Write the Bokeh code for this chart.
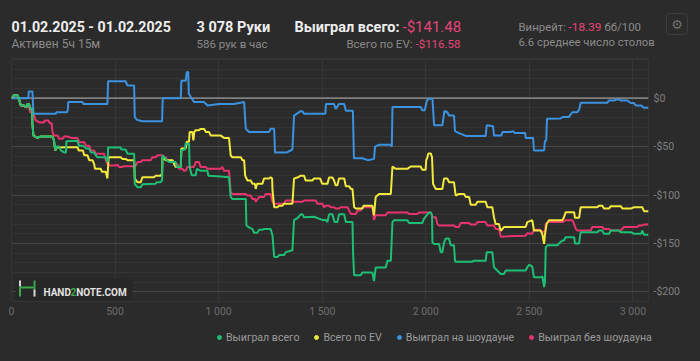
import numpy as np
from bokeh.plotting import figure
from bokeh.layouts import column
from bokeh.models import (Range1d, FixedTicker, Grid, Span, Label, BoxAnnotation,
                          Legend, LegendItem)
from bokeh.embed import file_html
from bokeh.resources import INLINE

# ---------------- data (hands played -> cumulative $) ----------------
series_names = ["Выиграл всего", "Всего по EV", "Выиграл на шоудауне", "Выиграл без шоудауна"]
series_colors = ["#1dbf75", "#f2e93c", "#3a92e0", "#e8336d"]

green_h = [0, 13, 29, 35, 45, 60, 69, 77, 85, 90,
           99, 101, 106, 125, 141, 198, 205, 211, 218, 230,
           238, 254, 263, 265, 318, 325, 345, 360, 375, 383,
           399, 407, 415, 455, 460, 465, 466, 527, 530, 551,
           560, 592, 595, 608, 624, 632, 696, 700, 720, 727,
           729, 737, 745, 761, 793, 797, 817, 820, 836, 841,
           857, 860, 870, 889, 895, 913, 946, 950, 1010, 1050,
           1058, 1066, 1131, 1134, 1150, 1163, 1171, 1187, 1195, 1211,
           1219, 1251, 1260, 1268, 1284, 1292, 1316, 1324, 1356, 1364,
           1380, 1396, 1404, 1412, 1460, 1500, 1517, 1525, 1533, 1549,
           1560, 1573, 1581, 1606, 1614, 1646, 1649, 1654, 1686, 1694,
           1742, 1750, 1758, 1806, 1815, 1831, 1839, 1847, 1911, 1919,
           1983, 1990, 2008, 2016, 2024, 2030, 2032, 2040, 2064, 2072,
           2080, 2088, 2096, 2112, 2120, 2136, 2141, 2144, 2225, 2230,
           2289, 2294, 2321, 2329, 2345, 2362, 2378, 2386, 2482, 2490,
           2500, 2514, 2522, 2555, 2563, 2571, 2575, 2579, 2587, 2635,
           2643, 2659, 2667, 2675, 2716, 2720, 2740, 2745, 2748, 2828,
           2836, 2852, 2860, 2885, 2893, 2932, 2941, 2989, 3005, 3040,
           3045, 3053, 3075]
green_v = [0, 3, 3, 0, -7.6, -7.6, -9.3, -6, -6, -11,
           -11, -26.5, -38.6, -41, -39.6, -39.6, -43.7, -54, -50, -50,
           -54, -56, -56, -44.4, -44, -49, -49, -52, -52, -56,
           -56, -59, -61, -61, -64, -66, -51, -51, -53, -53,
           -57.5, -57.5, -88.5, -92, -92, -89, -88.5, -86.8, -86.8, -85,
           -59, -61, -63, -66, -66, -71, -71, -54, -53, -47,
           -47, -71, -79.5, -79.5, -73, -75, -75, -80, -81, -81.6,
           -102, -104, -104, -131.5, -134, -135, -139, -139, -136, -136,
           -135, -135, -142, -164, -164, -162, -162, -159, -157, -125.7,
           -124, -120, -120, -123, -122.5, -125.7, -125.7, -128, -120, -120,
           -128, -128, -120, -120, -128, -128, -161, -183, -183, -180,
           -180, -189, -175, -175, -168, -168, -128, -126, -126, -129,
           -129, -125, -120, -118, -118, -121, -149, -150.5, -150.5, -159,
           -159, -149, -145, -145, -152, -152, -168, -169, -169, -168,
           -168, -159, -159, -174.6, -178, -181.5, -181.5, -178, -178, -174.6,
           -172, -174, -185, -185, -184, -195, -190, -154, -152, -152,
           -150, -147, -147, -143.6, -143.6, -150, -150, -142, -138.4, -138.4,
           -136.7, -136.7, -140, -140, -136.7, -136.7, -138.4, -138.4, -140, -140,
           -136.7, -141, -141]

yellow_h = [0, 13, 29, 35, 45, 60, 69, 77, 85, 90,
            99, 101, 106, 125, 141, 198, 205, 211, 218, 262,
            318, 325, 345, 351, 367, 375, 391, 399, 403, 431,
            437, 455, 463, 469, 527, 535, 551, 560, 592, 595,
            608, 624, 632, 688, 696, 720, 727, 729, 745, 777,
            785, 793, 817, 820, 841, 846, 857, 860, 873, 878,
            882, 889, 905, 913, 930, 938, 954, 962, 1010, 1026,
            1050, 1058, 1066, 1107, 1115, 1123, 1128, 1139, 1155, 1163,
            1175, 1179, 1185, 1211, 1219, 1243, 1251, 1258, 1260, 1268,
            1284, 1292, 1308, 1316, 1356, 1364, 1380, 1396, 1412, 1420,
            1452, 1460, 1490, 1500, 1525, 1533, 1549, 1557, 1565, 1573,
            1581, 1606, 1614, 1630, 1638, 1646, 1654, 1662, 1694, 1700,
            1742, 1750, 1758, 1774, 1831, 1839, 1855, 1911, 1927, 1975,
            1983, 1999, 2002, 2008, 2012, 2024, 2030, 2035, 2048, 2080,
            2088, 2104, 2112, 2136, 2144, 2160, 2185, 2193, 2209, 2217,
            2241, 2249, 2289, 2297, 2321, 2329, 2337, 2353, 2362, 2378,
            2482, 2490, 2514, 2522, 2555, 2563, 2571, 2575, 2583, 2595,
            2659, 2667, 2675, 2716, 2720, 2740, 2745, 2748, 2828, 2836,
            2852, 2860, 2885, 2893, 2941, 2949, 2989, 3005, 3045, 3053,
            3075]
yellow_v = [0, 3, 3, 0, -7.6, -7.6, -9.3, -6, -6, -11,
            -11, -26.5, -38.6, -41, -39.6, -39.6, -43.7, -54, -51, -50.6,
            -50.6, -54, -54, -59, -59, -64, -64, -68, -73, -73,
            -76, -76, -83, -61, -61, -62.7, -62.7, -64, -64, -83,
            -86.8, -86.8, -81.6, -81.6, -80, -80, -78, -61, -64, -64,
            -68, -71, -71, -52, -52, -45, -45, -35, -35, -43.7,
            -35, -33, -33, -31.7, -31.7, -35, -35, -38.6, -38.6, -41,
            -41, -59, -61, -61, -64, -64, -80, -85, -85, -88.5,
            -88.5, -93.7, -88.5, -88.5, -83, -83, -81.6, -83, -95, -112.6,
            -112.6, -111, -111, -109, -109, -83, -82, -80, -80, -85,
            -85, -83, -83, -88.5, -88.5, -82, -82, -85, -90, -90,
            -83, -83, -91, -91, -93.7, -93.7, -112.6, -114, -114, -111,
            -111, -121, -102, -99, -99, -70.6, -73, -73, -70.6, -70.6,
            -74, -74, -64, -61, -57, -57, -61, -88.5, -93.7, -93.7,
            -83, -83, -86.8, -86.8, -100.5, -99, -99, -102, -102, -110,
            -110, -107, -107, -112.6, -112.6, -123, -130, -130, -137, -133,
            -133, -128, -126, -136.7, -136.7, -141, -150.5, -141, -130, -126,
            -126, -123, -117.8, -117.8, -123.6, -123.6, -116, -112.6, -112.6, -111,
            -111, -114, -114, -111.5, -111.5, -114, -114, -112.6, -112.6, -116.7,
            -116.7]

blue_h = [0, 82, 83, 101, 106, 214, 216, 268, 272, 274,
          343, 347, 463, 466, 551, 560, 592, 595, 606, 632,
          727, 730, 817, 820, 841, 846, 853, 856, 881, 930,
          946, 1002, 1074, 1123, 1131, 1147, 1243, 1251, 1268, 1272,
          1330, 1356, 1364, 1396, 1404, 1412, 1515, 1518, 1557, 1565,
          1581, 1606, 1614, 1648, 1653, 1694, 1720, 1750, 1755, 1775,
          1830, 1836, 1839, 1975, 1983, 1995, 2005, 2016, 2032, 2040,
          2080, 2090, 2104, 2112, 2136, 2141, 2160, 2193, 2289, 2294,
          2325, 2329, 2365, 2370, 2410, 2420, 2430, 2480, 2482, 2518,
          2522, 2571, 2575, 2581, 2585, 2651, 2660, 2690, 2707, 2731,
          2740, 2748, 2876, 2884, 2909, 2917, 2935, 2941, 2973, 2989,
          3005, 3013, 3040, 3053, 3075]
blue_v = [0, 0, 7, 7, -16, -16, -14.5, -14.5, -12, -4,
          -4, -6, -6, 17.5, 17.5, 13, 13, -19.6, -22.4, -23.8,
          -23.8, 0, 0, 18, 18, 27, 27, 4.5, -4, -4,
          -7.6, -5.9, -5.9, -4, -31.6, -35, -35, -31.6, -31.6, -56,
          -56, -53, -18, -13.4, -13.4, -16, -16, -6, -6, -11,
          -6, -6, -13, -13, -62, -62, -64, -62.7, -50, -48,
          -48, -50, -9, -9, -12.5, -12.5, -2.4, -0.7, -0.7, -28,
          -28, -13, -14.5, -18, -18, -34, -36, -39, -39, -28,
          -29, -38.6, -38.6, -35, -35, -34, -36, -36, -41, -41,
          -54, -54, -44, -44, -21.3, -21, -19.5, -19.5, -14.5, -14.5,
          -12, -4.8, -4.8, -2.4, -2.4, -1.4, -1.4, -2.4, -2.4, -5,
          -5, -7.6, -7.6, -10, -10]

pink_h = [0, 13, 29, 35, 45, 60, 69, 85, 90, 99,
          104, 109, 117, 133, 157, 160, 178, 185, 194, 198,
          206, 222, 230, 246, 254, 270, 290, 318, 327, 351,
          360, 375, 383, 399, 407, 447, 455, 463, 471, 503,
          511, 519, 535, 543, 592, 600, 608, 624, 632, 672,
          680, 696, 704, 729, 737, 745, 753, 777, 785, 801,
          809, 825, 833, 841, 849, 881, 889, 905, 913, 938,
          946, 1010, 1018, 1026, 1050, 1058, 1066, 1131, 1139, 1155,
          1163, 1175, 1179, 1195, 1219, 1227, 1251, 1260, 1268, 1316,
          1324, 1356, 1364, 1404, 1412, 1469, 1477, 1501, 1509, 1517,
          1533, 1541, 1557, 1565, 1581, 1589, 1622, 1638, 1662, 1670,
          1686, 1694, 1742, 1750, 1758, 1806, 1815, 1911, 1919, 1960,
          1967, 2024, 2032, 2048, 2056, 2064, 2136, 2144, 2160, 2168,
          2209, 2217, 2241, 2249, 2289, 2297, 2329, 2337, 2353, 2362,
          2482, 2490, 2514, 2522, 2550, 2563, 2575, 2579, 2587, 2659,
          2675, 2708, 2716, 2724, 2732, 2796, 2804, 2852, 2860, 2885,
          2893, 2941, 2957, 3021, 3029, 3045, 3053, 3075]
pink_v = [0, 3, 3, 0, -7.6, -7.6, -9.3, -9.3, -14.5, -14.5,
          -18, -18, -23, -25, -25, -23, -23, -26, -26, -35,
          -38.6, -38.6, -42, -42, -39.6, -39.6, -41, -41, -45.5, -45.5,
          -49, -49, -54, -54, -57.5, -57.5, -64, -68, -69.6, -69.6,
          -68.5, -71, -71, -70.3, -70.3, -69.6, -66, -66, -64, -64,
          -61, -61, -59, -59, -61, -61, -64, -64, -68, -68,
          -73, -73, -75, -75, -71, -71, -66, -66, -71, -71,
          -73, -73, -71, -75, -75, -97, -99, -99, -100.5, -100.5,
          -104, -104, -107, -102, -102, -99, -99, -107, -109, -109,
          -105.7, -105.7, -107, -107, -105.7, -105.7, -109, -109, -112.6, -111,
          -111, -112.6, -112.6, -114, -114, -112.6, -112.6, -119.5, -119.5, -116,
          -116, -112.6, -112.6, -125.7, -121, -121, -118, -118, -119.5, -119.5,
          -118, -118, -123, -123, -130, -131.5, -131.5, -133, -133, -129,
          -129, -130.5, -130.5, -128, -128, -131.5, -131.5, -135, -135, -143,
          -142, -139.5, -140, -136, -136, -138, -138, -130, -128, -128,
          -126, -126, -130, -135, -136.7, -136.7, -133, -133, -135, -135,
          -136.7, -136.7, -133, -133, -131.5, -131.5, -130.5, -130.5]

x_ticks = [0, 500, 1000, 1500, 2000, 2500, 3000]
x_tick_labels = ["0", "500", "1 000", "1 500", "2 000", "2 500", "3 000"]
y_ticks = [0, -50, -100, -150, -200]
y_tick_labels = ["$0", "-$50", "-$100", "-$150", "-$200"]
y_minor_ticks = [40, 30, 20, 10, 0, -10, -20, -30, -40, -50, -60, -70, -80, -90, -100,
                 -110, -120, -130, -140, -150, -160, -170, -180, -190, -200, -210]

# ---------------- layout constants ----------------
W = 700
HEAD_H = 58          # header strip
MAIN_H = 270         # chart frame (243) + x axis band
FRAME_H = 243
LEG_H = 33           # legend strip
FL, FR = 11, 52
BG = "#2b2b2b"
FONT = "Roboto"
WHITE = "#eeeeee"
GRAY = "#8a8a8a"
PINK = "#e8437a"


def blank_fig(h):
    f = figure(width=W, height=h, output_backend="svg", toolbar_location=None,
               x_range=Range1d(0, 1), y_range=Range1d(0, 1),
               background_fill_color=BG, border_fill_color=BG,
               min_border=0, outline_line_color=None, frame_align=False)
    f.axis.visible = False
    f.grid.visible = False
    return f


def add_label(fig, text, x, y, size, color, align="left", style="normal",
              font=FONT, baseline="alphabetic"):
    fig.add_layout(Label(x=x, y=y, x_units="screen", y_units="screen",
                         text=text, text_font=font, text_font_size=f"{size}px",
                         text_color=color, text_align=align, text_baseline=baseline,
                         text_font_style=style))


def add_box(fig, l, t, r, b, fill=None, line=None, radius=0):
    fig.add_layout(BoxAnnotation(left=l, right=r, top=t, bottom=b,
                                 left_units="screen", right_units="screen",
                                 top_units="screen", bottom_units="screen",
                                 fill_color=fill if fill else "#000000",
                                 fill_alpha=1 if fill else 0,
                                 line_color=line if line else "#000000",
                                 line_alpha=1 if line else 0,
                                 border_radius=radius))


# ---------------- header ----------------
head = blank_fig(HEAD_H)


def hl(text, cx, cy, size, color, **kw):
    add_label(head, text, cx, HEAD_H - cy, size, color, **kw)


hl("01.02.2025 - 01.02.2025", 11, 26.5, 14.2, WHITE, style="bold")
hl("Активен 5ч 15м", 11, 43.5, 12, GRAY)
hl("3 078 Руки", 196, 26.5, 14.5, WHITE, style="bold")
hl("586 рук в час", 196, 43.5, 11.5, GRAY)
hl("Выиграл всего:", 294, 26.5, 14.5, WHITE, style="bold")
hl("-$141.48", 402, 26.5, 15, PINK)
hl("Всего по EV:", 412, 43.5, 11.5, GRAY, align="right")
hl("-$116.58", 460, 43.5, 11.5, PINK, align="right")
hl("Винрейт:", 518, 26.5, 11.4, GRAY)
hl("-18.39", 568, 26.5, 11.8, PINK)
hl("бб/100", 604, 26.5, 11.4, GRAY)
hl("6.6 среднее число столов", 518, 42, 11.3, GRAY)
add_box(head, 666, HEAD_H - 13, 687, HEAD_H - 34, line="#3e3e3e", radius=3)
hl("⚙", 676.5, 24, 13, "#6e6e6e", align="center", font="DejaVu Sans", baseline="middle")

# ---------------- main chart ----------------
p = figure(width=W, height=MAIN_H, output_backend="svg", toolbar_location=None,
           x_range=Range1d(0, 3075), y_range=Range1d(-210, 41),
           y_axis_location="right",
           background_fill_color=BG, border_fill_color=BG,
           min_border_left=FL, min_border_right=FR, min_border_top=0,
           min_border_bottom=MAIN_H - FRAME_H, outline_line_color="#343434",
           frame_align=False)

p.xgrid.ticker = FixedTicker(ticks=x_ticks)
p.xgrid.grid_line_color = "#363636"
p.ygrid.ticker = FixedTicker(ticks=y_minor_ticks)
p.ygrid.grid_line_color = "#343434"
p.add_layout(Grid(dimension=1, ticker=FixedTicker(ticks=y_ticks),
                  grid_line_color="#474747", grid_line_width=1.2))
p.add_layout(Span(location=0, dimension="width", line_color="#808080",
                  line_width=1.7, level="underlay"))

xa = p.xaxis[0]
xa.ticker = FixedTicker(ticks=x_ticks)
xa.major_label_overrides = dict(zip(x_ticks, x_tick_labels))
ya = p.yaxis[0]
ya.ticker = FixedTicker(ticks=y_ticks)
ya.major_label_overrides = dict(zip(y_ticks, y_tick_labels))
for ax, col, so in ((xa, "#6c6c6c", 3), (ya, "#808080", 5)):
    ax.axis_line_color = None
    ax.major_tick_line_color = None
    ax.minor_tick_line_color = None
    ax.major_tick_out = 0
    ax.major_tick_in = 0
    ax.major_label_text_color = col
    ax.major_label_text_font = FONT
    ax.major_label_text_font_size = "10.5px"
    ax.major_label_standoff = so

data = {
    0: (green_h, green_v),
    1: (yellow_h, yellow_v),
    2: (blue_h, blue_v),
    3: (pink_h, pink_v),
}
for idx in (3, 2, 1, 0):
    hx, vy = data[idx]
    p.line(hx, vy, line_color=series_colors[idx], line_width=2)

# watermark logo (canvas y -> frame y: 301 - cy)
MB = 301


def mb(l, t, r, b, **kw):
    add_box(p, l - FL, MB - t, r - FL, MB - b, **kw)


mb(15, 278, 132, 300, fill="#272727", radius=2)
mb(18.5, 280, 20.5, 286, fill="#d8d8d8")
mb(18.5, 286, 20.5, 296, fill="#3aa64a")
mb(20.5, 286, 33, 288, fill="#3aa64a")
mb(33, 280, 35, 289, fill="#3aa64a")
mb(33, 289, 35, 296, fill="#d8d8d8")
add_label(p, "HAND", 43 - FL, MB - 291.5, 10, "#e2e2e2", style="bold")
add_label(p, "2", 70 - FL, MB - 291.5, 10, "#3aa64a", style="bold")
add_label(p, "NOTE.COM", 75.7 - FL, MB - 291.5, 10, "#e2e2e2", style="bold")

# ---------------- legend strip ----------------
leg = blank_fig(LEG_H)
items = []
for name, col in zip(series_names, series_colors):
    r = leg.scatter(x=np.array([np.nan]), y=np.array([np.nan]), size=5, color=col)
    items.append(LegendItem(label=name, renderers=[r]))
legend = Legend(items=items, orientation="horizontal", location=(214, 361 - 343.5),
                background_fill_alpha=0, border_line_alpha=0,
                label_text_color="#9a9a9a", label_text_font=FONT,
                label_text_font_size="10.6px", glyph_width=10, glyph_height=10,
                label_standoff=2, spacing=12, padding=0, margin=0, label_height=12)
leg.add_layout(legend)

page = column(head, p, leg, spacing=0, background=BG)

html = None
try:
    from bokeh.core.templates import get_env
    tmpl = get_env().from_string(
        '{% extends "file.html" %}{% block preamble %}'
        '<style>html,body{margin:0;padding:0;background:#2b2b2b;overflow:hidden;}</style>'
        '{% endblock %}')
    html = file_html(page, INLINE, template=tmpl)
except Exception:
    html = file_html(page, INLINE)
open("out.html", "w").write(html)
